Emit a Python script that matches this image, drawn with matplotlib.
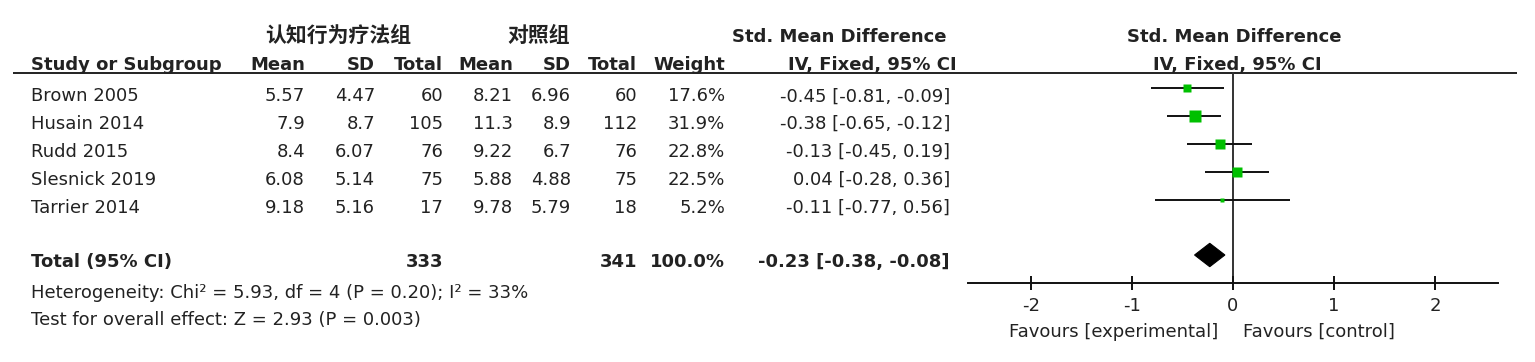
import matplotlib
matplotlib.use("Agg")
import matplotlib.pyplot as plt
from matplotlib.patches import Polygon
import numpy as np

# ---------------- data ----------------
studies = ["Brown 2005", "Husain 2014", "Rudd 2015", "Slesnick 2019", "Tarrier 2014"]
exp_mean = [5.57, 7.9, 8.4, 6.08, 9.18]
exp_sd = [4.47, 8.7, 6.07, 5.14, 5.16]
exp_n = [60, 105, 76, 75, 17]
ctl_mean = [8.21, 11.3, 9.22, 5.88, 9.78]
ctl_sd = [6.96, 8.9, 6.7, 4.88, 5.79]
ctl_n = [60, 112, 76, 75, 18]
weight = [17.6, 31.9, 22.8, 22.5, 5.2]
smd = [-0.45, -0.38, -0.13, 0.04, -0.11]
ci_lo = [-0.81, -0.65, -0.45, -0.28, -0.77]
ci_hi = [-0.09, -0.12, 0.19, 0.36, 0.56]

total_exp_n = 333
total_ctl_n = 341
total_weight = 100.0
total_smd = -0.23
total_lo = -0.38
total_hi = -0.08

group_exp = "认知行为疗法组"
group_ctl = "对照组"
heterogeneity = "Heterogeneity: Chi² = 5.93, df = 4 (P = 0.20); I² = 33%"
overall = "Test for overall effect: Z = 2.93 (P = 0.003)"
xticks = [-2, -1, 0, 1, 2]
xticklabels = ["-2", "-1", "0", "1", "2"]
favours_left = "Favours [experimental]"
favours_right = "Favours [control]"

# ---------------- layout ----------------
W, H, DPI = 1535, 362, 100
plt.rcParams['font.family'] = ['DejaVu Sans', 'Noto Sans CJK SC']
plt.rcParams['axes.unicode_minus'] = False
FS = 13
TXT = '#222222'
HALF_CAP = 6.6

fig = plt.figure(figsize=(W / DPI, H / DPI), dpi=DPI)
fig.patch.set_facecolor('white')
ax_t = fig.add_axes([0, 0, 1, 1])
ax_t.set_xlim(0, W)
ax_t.set_ylim(H, 0)
ax_t.axis('off')


def put(x, yc, s, ha='right', bold=False):
    ax_t.text(x, yc + HALF_CAP, s, ha=ha, va='baseline', fontsize=FS,
              fontweight='bold' if bold else 'normal', color=TXT)


# group headers
ax_t.text(338, 35, group_exp, ha='center', va='center', fontsize=15,
          fontweight='bold', color=TXT, family=['Noto Sans CJK SC'])
ax_t.text(539, 35, group_ctl, ha='center', va='center', fontsize=15,
          fontweight='bold', color=TXT, family=['Noto Sans CJK SC'])
ax_t.text(839, 35 + HALF_CAP, "Std. Mean Difference", ha='center', va='baseline',
          fontsize=FS, fontweight='bold', color=TXT)
ax_t.text(1234, 35 + HALF_CAP, "Std. Mean Difference", ha='center', va='baseline',
          fontsize=FS, fontweight='bold', color=TXT)

# column headers
HY = 63.3
put(31, HY, "Study or Subgroup", ha='left', bold=True)
col_x = [305, 375, 443, 513, 571, 637, 725]
for x, s in zip(col_x, ["Mean", "SD", "Total", "Mean", "SD", "Total", "Weight"]):
    put(x, HY, s, bold=True)
ax_t.text(872, HY + HALF_CAP, "IV, Fixed, 95% CI", ha='center', va='baseline',
          fontsize=FS, fontweight='bold', color=TXT)
ax_t.text(1237, HY + HALF_CAP, "IV, Fixed, 95% CI", ha='center', va='baseline',
          fontsize=FS, fontweight='bold', color=TXT)

# header rule
ax_t.plot([13, 1517], [72.5, 72.5], color='#222222', lw=1.4, solid_capstyle='butt')

# study rows
row_y0, row_step = 94.7, 27.9
rows_y = [row_y0 + i * row_step for i in range(len(studies))]
for i, y in enumerate(rows_y):
    put(31, y, studies[i], ha='left')
    put(305, y, f"{exp_mean[i]:g}")
    put(375, y, f"{exp_sd[i]:g}")
    put(443, y, f"{exp_n[i]}")
    put(513, y, f"{ctl_mean[i]:g}")
    put(571, y, f"{ctl_sd[i]:g}")
    put(637, y, f"{ctl_n[i]}")
    put(725, y, f"{weight[i]:.1f}%")
    put(950, y, f"{smd[i]:.2f} [{ci_lo[i]:.2f}, {ci_hi[i]:.2f}]")

# total row
TY = 260.5
put(31, TY, "Total (95% CI)", ha='left', bold=True)
put(443, TY, f"{total_exp_n}", bold=True)
put(637, TY, f"{total_ctl_n}", bold=True)
put(725, TY, f"{total_weight:.1f}%", bold=True)
put(950, TY, f"{total_smd:.2f} [{total_lo:.2f}, {total_hi:.2f}]", bold=True)
put(31, 291.7, heterogeneity, ha='left')
put(31, 318.3, overall, ha='left')

# ---------------- forest panel ----------------
x0_px, x1_px = 968, 1498
y_top, y_bot = 72.5, 283
xmin, xmax = -2.62, 2.62
ax_f = fig.add_axes([x0_px / W, 1 - y_bot / H, (x1_px - x0_px) / W, (y_bot - y_top) / H])
ax_f.set_xlim(xmin, xmax)
ax_f.set_ylim(y_bot, y_top)
ax_f.patch.set_alpha(0)
for s in ['top', 'left', 'right']:
    ax_f.spines[s].set_visible(False)
ax_f.spines['bottom'].set_linewidth(1.4)
ax_f.spines['bottom'].set_color('#111111')
ax_f.set_yticks([])
ax_f.set_xticks(xticks)
ax_f.set_xticklabels(xticklabels)
ax_f.tick_params(axis='x', direction='inout', length=9.5, width=1.4, color='#111111',
                 labelsize=FS, labelcolor=TXT, pad=5)
ax_f.axvline(0, color='#333333', lw=1.4, zorder=1)

sq_y = [y - 6.3 for y in rows_y]
ax_f.hlines(sq_y, ci_lo, ci_hi, color='#111111', lw=1.4, zorder=2)
for i, y in enumerate(sq_y):
    side_px = 2.12 * np.sqrt(weight[i])
    ax_f.plot([smd[i]], [y], marker='s', ms=side_px * 72 / DPI, color='#00c000',
              mec='none', zorder=3, clip_on=False)

yd, hd = 255, 11.7
diamond = Polygon([(total_lo, yd), (total_smd, yd - hd), (total_hi, yd), (total_smd, yd + hd)],
                  closed=True, facecolor='black', edgecolor='black', lw=0.8, zorder=3)
ax_f.add_patch(diamond)

ax_t.text(1218, 330 + HALF_CAP, favours_left, ha='right', va='baseline', fontsize=FS, color=TXT)
ax_t.text(1243, 330 + HALF_CAP, favours_right, ha='left', va='baseline', fontsize=FS, color=TXT)

fig.savefig("out.png", dpi=DPI, facecolor='white')
